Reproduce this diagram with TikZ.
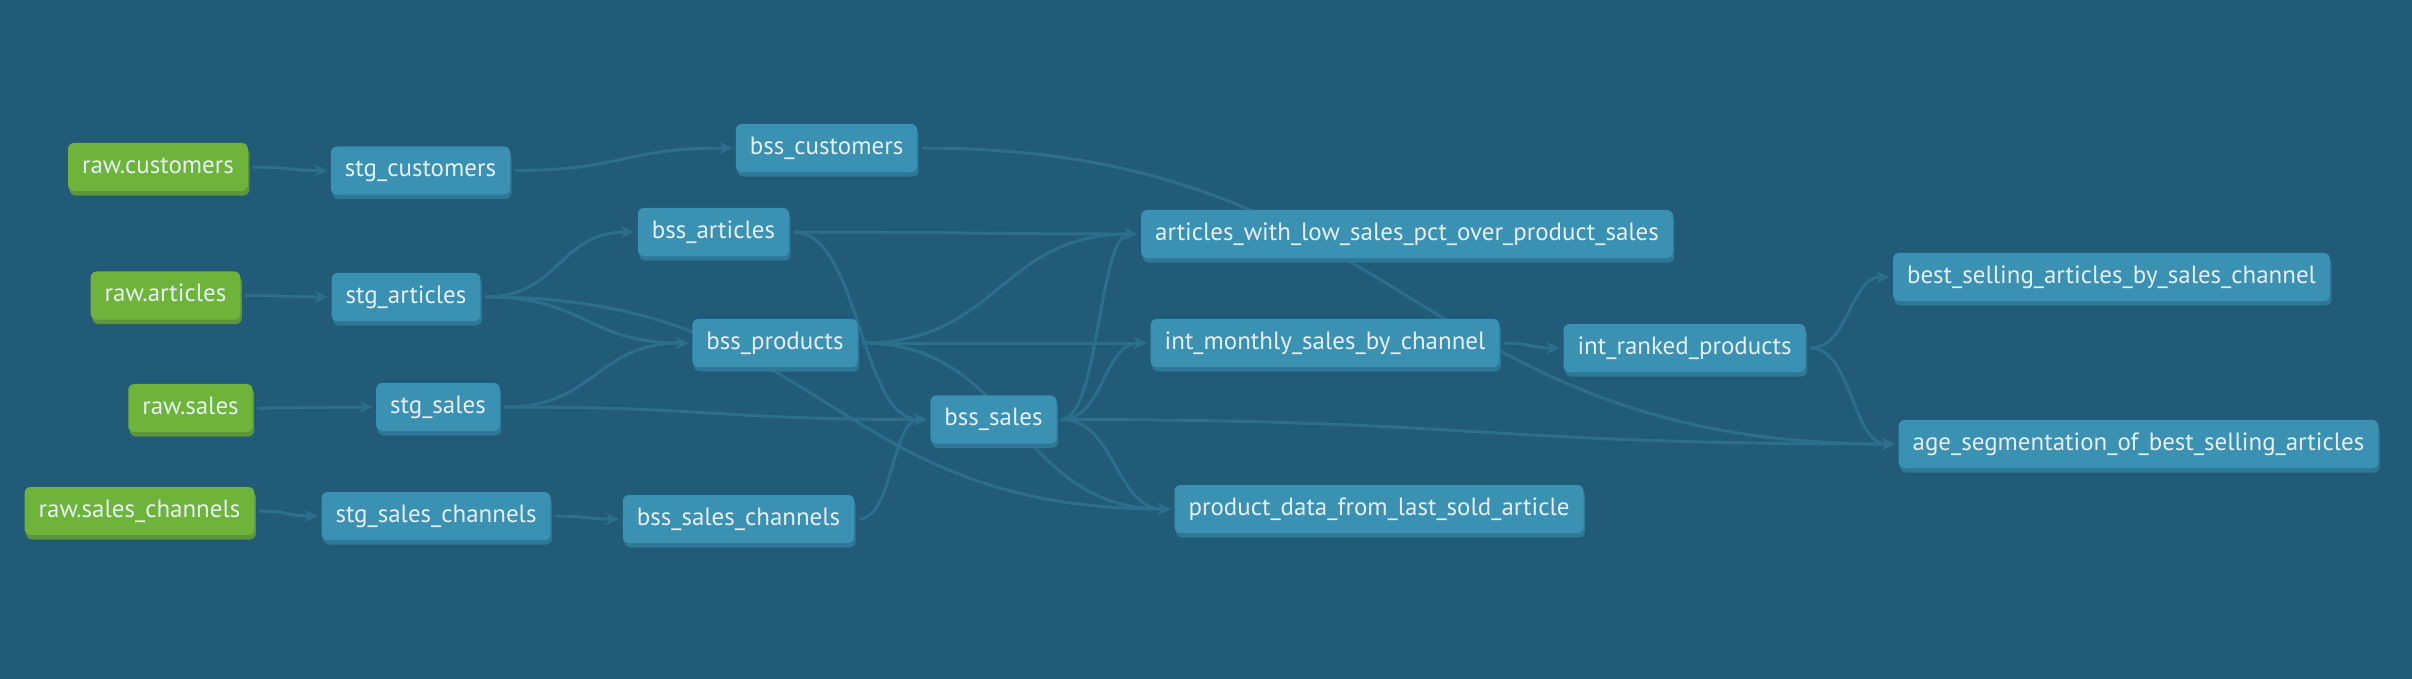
\documentclass[tikz,border=0pt]{standalone}
\usepackage{fontspec}
\setmainfont{PT Sans}
\usetikzlibrary{arrows.meta,calc,shadows}
\pgfdeclarelayer{bg}
\pgfdeclarelayer{edges}
\pgfsetlayers{bg,edges,main}
\definecolor{canvas}{HTML}{225B78}
\definecolor{wire}{HTML}{2D6E8C}
\definecolor{modelblue}{HTML}{3A91B2}
\definecolor{modelshade}{HTML}{2E7896}
\definecolor{seedgreen}{HTML}{6EB43A}
\definecolor{seedshade}{HTML}{5A963C}
\definecolor{label}{HTML}{E6EEF2}
\tikzset{
  box/.style={rounded corners=0.06cm, text=label, inner xsep=0.14cm, inner ysep=0cm,
    minimum height=0.48cm, text height=0.17cm, text depth=0.05cm,
    font=\fontsize{7.1}{8}\selectfont},
  model/.style={box, fill=modelblue,
    drop shadow={shadow xshift=0.015cm, shadow yshift=-0.045cm, fill=modelshade, opacity=1}},
  source/.style={box, fill=seedgreen,
    drop shadow={shadow xshift=0.015cm, shadow yshift=-0.045cm, fill=seedshade, opacity=1}},
  flow/.style={draw=wire, line width=0.03cm, shorten <=0.04cm, shorten >=0.03cm,
    -{Stealth[length=0.13cm, width=0.12cm, inset=0.04cm]},
    to path={let \p1=(\tikztostart), \p2=(\tikztotarget), \n1={0.5*(\x2-\x1)} in
      .. controls (\x1+\n1,\y1) and (\x2-\n1,\y2) .. (\tikztotarget) \tikztonodes}}
}
\begin{document}
\begin{tikzpicture}[x=0.01cm, y=-0.01cm]
  \useasboundingbox (0,0) rectangle (2412,678);
  \begin{pgfonlayer}{bg}
    \fill[canvas] (-10,-10) rectangle (2422,688);
  \end{pgfonlayer}
  \draw
    (158,167) node[source] (rawcustomers) {raw.customers}
    (165.5,295.5) node[source] (rawarticles) {raw.articles}
    (190.5,408) node[source] (rawsales) {raw.sales}
    (139.5,511) node[source] (rawchannels) {raw.sales\_channels}
    (420.5,170.5) node[model] (stgcustomers) {stg\_customers}
    (406,297) node[model] (stgarticles) {stg\_articles}
    (438,407) node[model] (stgsales) {stg\_sales}
    (436,516) node[model] (stgchannels) {stg\_sales\_channels}
    (826.5,148) node[model] (bsscustomers) {bss\_customers}
    (713.5,232) node[model] (bssarticles) {bss\_articles}
    (775,343) node[model] (bssproducts) {bss\_products}
    (993.5,419.5) node[model] (bsssales) {bss\_sales}
    (738.5,519) node[model] (bsschannels) {bss\_sales\_channels}
    (1407,234) node[model] (lowsales) {articles\_with\_low\_sales\_pct\_over\_product\_sales}
    (1325,343) node[model] (monthly) {int\_monthly\_sales\_by\_channel}
    (1684.5,348) node[model] (ranked) {int\_ranked\_products}
    (1379,509) node[model] (lastsold) {product\_data\_from\_last\_sold\_article}
    (2111.5,277) node[model] (bestselling) {best\_selling\_articles\_by\_sales\_channel}
    (2138.5,444) node[model] (agesegment) {age\_segmentation\_of\_best\_selling\_articles};
  \begin{pgfonlayer}{edges}
  \begin{scope}[flow]
    \draw (rawcustomers.east) to (stgcustomers.west);
    \draw (rawarticles.east) to (stgarticles.west);
    \draw (rawsales.east) to (stgsales.west);
    \draw (rawchannels.east) to (stgchannels.west);
    \draw (stgcustomers.east) to (bsscustomers.west);
    \draw (stgarticles.east) to (bssarticles.west);
    \draw (stgarticles.east) to (bssproducts.west);
    \draw (stgarticles.east) to (lastsold.west);
    \draw (stgsales.east) to (bssproducts.west);
    \draw (stgsales.east) to (bsssales.west);
    \draw (stgchannels.east) to (bsschannels.west);
    \draw (bsschannels.east) to (bsssales.west);
    \draw (bssarticles.east) to (lowsales.west);
    \draw (bssarticles.east) to (bsssales.west);
    \draw (bssproducts.east) to (lowsales.west);
    \draw (bssproducts.east) to (monthly.west);
    \draw (bssproducts.east) to (lastsold.west);
    \draw (bsssales.east) to (lowsales.west);
    \draw (bsssales.east) to (monthly.west);
    \draw (bsssales.east) to (lastsold.west);
    \draw (bsssales.east) to (agesegment.west);
    \draw (bsscustomers.east) to (agesegment.west);
    \draw (monthly.east) to (ranked.west);
    \draw (ranked.east) to (bestselling.west);
    \draw (ranked.east) to (agesegment.west);
  \end{scope}
  \end{pgfonlayer}
\end{tikzpicture}
\end{document}
